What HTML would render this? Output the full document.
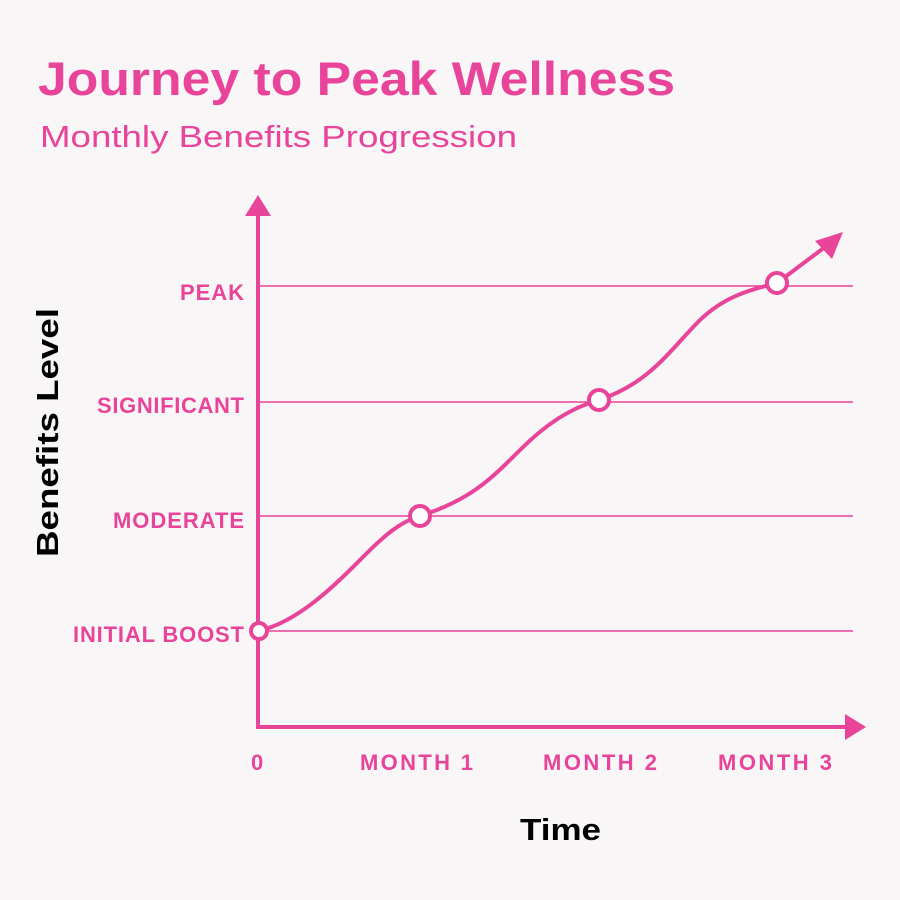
<!DOCTYPE html>
<html><head><style>
html,body{margin:0;padding:0;background:#f9f6f7;}
</style></head><body>
<svg width="900" height="900" viewBox="0 0 900 900" xmlns="http://www.w3.org/2000/svg" style="display:block">
<rect width="900" height="900" fill="#f9f6f7"/>
<text x="38" y="95" font-family="Liberation Sans, sans-serif" font-weight="bold" font-size="47" fill="#e8449a" textLength="637" lengthAdjust="spacingAndGlyphs">Journey to Peak Wellness</text>
<text x="40" y="147" font-family="Liberation Sans, sans-serif" font-size="31" fill="#e8449a" textLength="477" lengthAdjust="spacingAndGlyphs">Monthly Benefits Progression</text>
<g stroke="#e8449a" stroke-width="1.6">
<line x1="260" y1="286" x2="853" y2="286"/>
<line x1="260" y1="402" x2="853" y2="402"/>
<line x1="260" y1="516" x2="853" y2="516"/>
<line x1="260" y1="631" x2="853" y2="631"/>
</g>
<g stroke="#e8449a" stroke-width="4" fill="none">
<line x1="258" y1="212" x2="258" y2="729"/>
<line x1="256" y1="727" x2="850" y2="727"/>
</g>
<polygon points="258,195 245,216 271,216" fill="#e8449a"/>
<polygon points="866,727 845,714 845,740" fill="#e8449a"/>
<path d="M258,631 C300,622 340,580 365,555 C385,535 400,522 420,516 C470,500 490,480 520,450 C545,425 570,408 599,400 C650,383 670,350 700,320 C725,296 750,290 777,283 L825,247" stroke="#e8449a" stroke-width="4" fill="none"/>
<polygon points="843,232 815,241 832,259" fill="#e8449a"/>
<g fill="#fff" stroke="#e8449a" stroke-width="4">
<circle cx="259" cy="631" r="8"/>
<circle cx="420" cy="516" r="10"/>
<circle cx="599" cy="400" r="10"/>
<circle cx="777" cy="283" r="10"/>
</g>
<g font-family="Liberation Sans, sans-serif" font-weight="bold" font-size="22" fill="#e8449a" lengthAdjust="spacingAndGlyphs">
<text x="180" y="300" textLength="64">PEAK</text>
<text x="97" y="413" textLength="147">SIGNIFICANT</text>
<text x="113" y="528" textLength="131">MODERATE</text>
<text x="73" y="642" textLength="171">INITIAL BOOST</text>
<text x="251" y="770" textLength="14">0</text>
<text x="360" y="770" textLength="113">MONTH 1</text>
<text x="543" y="770" textLength="114">MONTH 2</text>
<text x="718" y="770" textLength="114">MONTH 3</text>
</g>
<text x="520" y="840" font-family="Liberation Sans, sans-serif" font-weight="bold" font-size="31" fill="#000" textLength="81" lengthAdjust="spacingAndGlyphs">Time</text>
<text transform="translate(58,557) rotate(-90)" font-family="Liberation Sans, sans-serif" font-weight="bold" font-size="31" fill="#000" textLength="249" lengthAdjust="spacingAndGlyphs">Benefits Level</text>
</svg>
</body></html>
